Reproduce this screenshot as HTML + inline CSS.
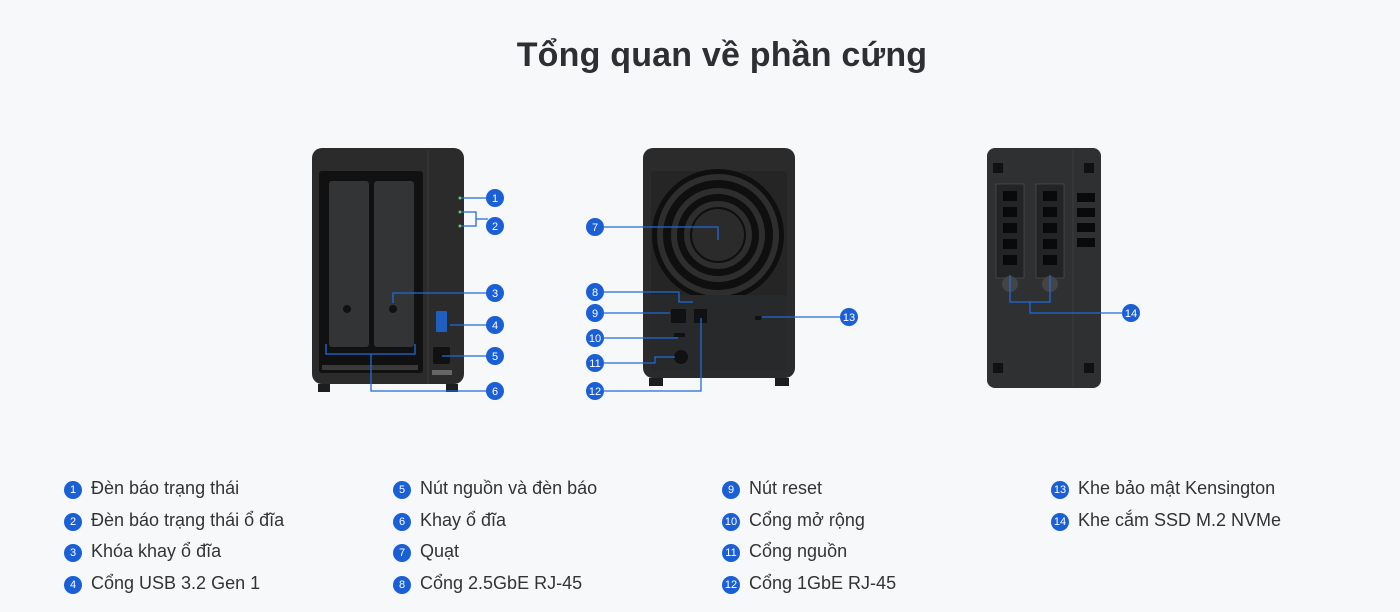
<!DOCTYPE html>
<html><head><meta charset="utf-8"><style>
body{margin:0;width:1400px;height:612px;background:#f7f8f9;overflow:hidden;font-family:"Liberation Sans",sans-serif;position:relative}
h1{position:absolute;left:0;width:1444px;top:36px;margin:0;text-align:center;font-size:34px;font-weight:bold;color:#2d2f33;letter-spacing:0.2px}
.l{position:absolute;font-size:18px;color:#333;white-space:nowrap}
.l b{display:inline-block;width:18px;height:18px;border-radius:50%;background:#1a5fd6;color:#fff;font-size:11px;font-weight:normal;text-align:center;line-height:18px;margin-right:9px;vertical-align:1px}
svg{position:absolute;left:0;top:0}
</style></head><body>
<h1>Tổng quan về phần cứng</h1>
<svg width="1400" height="612" viewBox="0 0 1400 612">
<defs><style>.c{fill:#1a5fd6}.t{fill:#fff;font-family:"Liberation Sans",sans-serif;font-size:11px;text-anchor:middle}.ln{stroke:#1f6ad8;stroke-width:1.3;fill:none}</style></defs>
<!-- front -->
<rect x="312" y="148" width="152" height="236" rx="10" fill="#2b2b2c"/>
<rect x="318" y="384" width="12" height="8" fill="#1d1d1d"/><rect x="446" y="384" width="12" height="8" fill="#1d1d1d"/>
<line x1="428" y1="150" x2="428" y2="384" stroke="#3a3a3a"/>
<rect x="319" y="171" width="104" height="202" rx="3" fill="#111"/>
<rect x="329" y="181" width="40" height="166" rx="3" fill="#333435"/>
<rect x="374" y="181" width="40" height="166" rx="3" fill="#333435"/>
<circle cx="347" cy="309" r="4" fill="#111"/><circle cx="393" cy="309" r="4" fill="#111"/>
<rect x="322" y="365" width="96" height="5" fill="#3a3a3a"/>
<circle cx="460" cy="198" r="1.5" fill="#6c6"/><circle cx="460" cy="212" r="1.5" fill="#6c6"/><circle cx="460" cy="226" r="1.5" fill="#6c6"/>
<rect x="436" y="311" width="11" height="21" rx="1" fill="#1e5fbf"/>
<rect x="433" y="347" width="17" height="17" rx="2" fill="#111"/>
<rect x="432" y="370" width="20" height="5" fill="#666"/>
<path class="ln" d="M461 198H488M461 212H476V226H461M476 219H488M393 303V293H488M450 325H488M442 356H488M326 344V354H415V344M371 354V391H488"/>
<!-- back -->
<rect x="643" y="148" width="152" height="230" rx="10" fill="#2b2b2c"/>
<rect x="649" y="378" width="14" height="8" fill="#1d1d1d"/><rect x="775" y="378" width="14" height="8" fill="#1d1d1d"/>
<rect x="651" y="171" width="136" height="200" rx="3" fill="#252526"/>
<circle cx="718" cy="235" r="66" fill="#0f0f10"/>
<g stroke="#2e2e2f" stroke-width="6" fill="none"><circle cx="718" cy="235" r="58"/><circle cx="718" cy="235" r="44"/><circle cx="718" cy="235" r="31"/></g>
<circle cx="718" cy="235" r="26" fill="#2b2b2c"/>
<rect x="651" y="295" width="136" height="76" fill="#28292a"/>
<rect x="671" y="309" width="15" height="14" fill="#111"/><rect x="694" y="309" width="13" height="14" fill="#111"/>
<rect x="674" y="333" width="11" height="4" fill="#111"/>
<circle cx="681" cy="357" r="7" fill="#111"/>
<rect x="755" y="316" width="6" height="4" fill="#111"/>
<path class="ln" d="M604 227H718V240M604 292H679V302H693M604 313H670M604 338H678M604 363H655V357H675M604 391H701V318M762 317H840"/>
<!-- bottom -->
<rect x="987" y="148" width="114" height="240" rx="8" fill="#2f3032"/>
<line x1="1073" y1="150" x2="1073" y2="386" stroke="#3b3c3e"/>
<g fill="#111"><rect x="993" y="163" width="10" height="10"/><rect x="1084" y="163" width="10" height="10"/><rect x="993" y="363" width="10" height="10"/><rect x="1084" y="363" width="10" height="10"/></g>
<rect x="996" y="184" width="28" height="94" fill="#232425" stroke="#555" stroke-width="0.6"/>
<rect x="1036" y="184" width="28" height="94" fill="#232425" stroke="#555" stroke-width="0.6"/>
<g fill="#0a0a0a">
<rect x="1003" y="191" width="14" height="10"/><rect x="1003" y="207" width="14" height="10"/><rect x="1003" y="223" width="14" height="10"/><rect x="1003" y="239" width="14" height="10"/><rect x="1003" y="255" width="14" height="10"/>
<rect x="1043" y="191" width="14" height="10"/><rect x="1043" y="207" width="14" height="10"/><rect x="1043" y="223" width="14" height="10"/><rect x="1043" y="239" width="14" height="10"/><rect x="1043" y="255" width="14" height="10"/>
<rect x="1077" y="193" width="18" height="9"/><rect x="1077" y="208" width="18" height="9"/><rect x="1077" y="223" width="18" height="9"/><rect x="1077" y="238" width="18" height="9"/>
</g>
<circle cx="1010" cy="284" r="8" fill="#444"/><circle cx="1050" cy="284" r="8" fill="#444"/>
<path class="ln" d="M1010 275V302H1050V275M1030 302V313H1122"/>
<!-- badges -->
<g>
<circle class="c" cx="495" cy="198" r="9"/><text class="t" x="495" y="202">1</text>
<circle class="c" cx="495" cy="226" r="9"/><text class="t" x="495" y="230">2</text>
<circle class="c" cx="495" cy="293" r="9"/><text class="t" x="495" y="297">3</text>
<circle class="c" cx="495" cy="325" r="9"/><text class="t" x="495" y="329">4</text>
<circle class="c" cx="495" cy="356" r="9"/><text class="t" x="495" y="360">5</text>
<circle class="c" cx="495" cy="391" r="9"/><text class="t" x="495" y="395">6</text>
<circle class="c" cx="595" cy="227" r="9"/><text class="t" x="595" y="231">7</text>
<circle class="c" cx="595" cy="292" r="9"/><text class="t" x="595" y="296">8</text>
<circle class="c" cx="595" cy="313" r="9"/><text class="t" x="595" y="317">9</text>
<circle class="c" cx="595" cy="338" r="9"/><text class="t" x="595" y="342">10</text>
<circle class="c" cx="595" cy="363" r="9"/><text class="t" x="595" y="367">11</text>
<circle class="c" cx="595" cy="391" r="9"/><text class="t" x="595" y="395">12</text>
<circle class="c" cx="849" cy="317" r="9"/><text class="t" x="849" y="321">13</text>
<circle class="c" cx="1131" cy="313" r="9"/><text class="t" x="1131" y="317">14</text>
</g>
</svg>
<div class="l" style="left:64px;top:478px"><b>1</b>Đèn báo trạng thái</div>
<div class="l" style="left:64px;top:510px"><b>2</b>Đèn báo trạng thái ổ đĩa</div>
<div class="l" style="left:64px;top:541px"><b>3</b>Khóa khay ổ đĩa</div>
<div class="l" style="left:64px;top:573px"><b>4</b>Cổng USB 3.2 Gen 1</div>
<div class="l" style="left:393px;top:478px"><b>5</b>Nút nguồn và đèn báo</div>
<div class="l" style="left:393px;top:510px"><b>6</b>Khay ổ đĩa</div>
<div class="l" style="left:393px;top:541px"><b>7</b>Quạt</div>
<div class="l" style="left:393px;top:573px"><b>8</b>Cổng 2.5GbE RJ-45</div>
<div class="l" style="left:722px;top:478px"><b>9</b>Nút reset</div>
<div class="l" style="left:722px;top:510px"><b>10</b>Cổng mở rộng</div>
<div class="l" style="left:722px;top:541px"><b>11</b>Cổng nguồn</div>
<div class="l" style="left:722px;top:573px"><b>12</b>Cổng 1GbE RJ-45</div>
<div class="l" style="left:1051px;top:478px"><b>13</b>Khe bảo mật Kensington</div>
<div class="l" style="left:1051px;top:510px"><b>14</b>Khe cắm SSD M.2 NVMe</div>
</body></html>
